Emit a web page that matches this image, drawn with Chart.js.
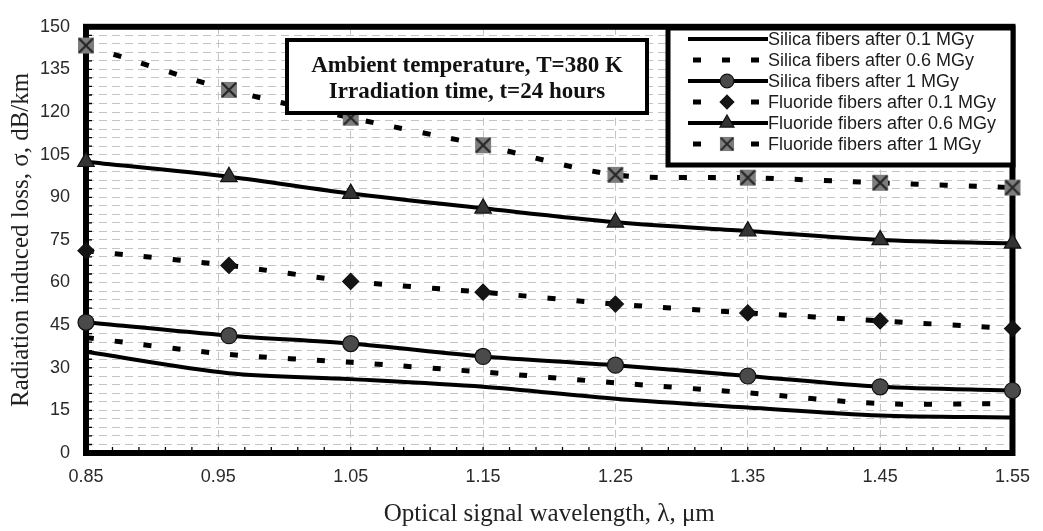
<!DOCTYPE html>
<html>
<head>
<meta charset="utf-8">
<script src="https://cdn.jsdelivr.net/npm/chart.js@4.4.1/dist/chart.umd.min.js"></script>
<style>
  html, body { margin: 0; padding: 0; background: #fff; }
</style>
</head>
<body>
<canvas id="lossChart" width="1043" height="531"></canvas>
<script>
// Data (wavelength in um, loss in dB/km)
const wavelengths = [0.85, 0.958, 1.05, 1.15, 1.25, 1.35, 1.45, 1.55];
const silica01 = [35.6, 28.1, 26.0, 23.3, 19.1, 16.0, 13.2, 12.5];
const silica06 = [40.6, 34.7, 31.9, 28.5, 24.7, 21.2, 17.4, 17.4];
const silica1  = [46.0, 41.3, 38.5, 34.0, 30.9, 27.1, 23.3, 22.0];
const fluor01  = [71.2, 66.0, 60.4, 56.6, 52.4, 49.3, 46.5, 43.8];
const fluor06  = [102.5, 97.2, 91.3, 86.1, 81.2, 78.1, 75.0, 73.8];
const fluor1   = [143.4, 127.8, 118.0, 108.3, 97.9, 96.9, 95.1, 93.4];

const xTickLabels = [0.85, 0.95, 1.05, 1.15, 1.25, 1.35, 1.45, 1.55];
const yTickLabels = [0, 15, 30, 45, 60, 75, 90, 105, 120, 135, 150];

const seriesNames = [
  'Silica fibers after 0.1 MGy',
  'Silica fibers after 0.6 MGy',
  'Silica fibers after 1 MGy',
  'Fluoride fibers after 0.1 MGy',
  'Fluoride fibers after 0.6 MGy',
  'Fluoride fibers after 1 MGy'
];

// grey square with a cross, like the spreadsheet marker
const crossMarker = (() => {
  const c = document.createElement('canvas');
  c.width = 18; c.height = 18;
  const g = c.getContext('2d');
  g.fillStyle = '#7d7d7d';
  g.fillRect(1, 1, 16, 16);
  g.strokeStyle = '#262626';
  g.lineWidth = 2.2;
  g.beginPath();
  g.moveTo(2, 2); g.lineTo(16, 16);
  g.moveTo(16, 2); g.lineTo(2, 16);
  g.stroke();
  return c;
})();

const dash = [8, 21];
const toPoints = arr => arr.map((v, i) => ({ x: wavelengths[i], y: v }));

const styles = [
  { data: silica01, dashed: false, marker: false },
  { data: silica06, dashed: true,  marker: false },
  { data: silica1,  dashed: false, marker: 'circle', radius: 8, fill: '#4a4a4a' },
  { data: fluor01,  dashed: true,  marker: 'rectRot', radius: 8, fill: '#151515' },
  { data: fluor06,  dashed: false, marker: 'triangle', radius: 9.5, fill: '#333333' },
  { data: fluor1,   dashed: true,  marker: crossMarker, radius: 9, fill: '#7d7d7d' }
];

const datasets = styles.map((s, i) => ({
  label: seriesNames[i],
  data: toPoints(s.data),
  borderColor: '#000',
  borderWidth: s.dashed ? 5 : 4,
  borderDash: s.dashed ? dash : [],
  borderCapStyle: 'butt',
  tension: 0.3,
  fill: false,
  clip: false,
  pointStyle: s.marker || 'circle',
  pointRadius: s.marker ? s.radius : 0,
  pointHoverRadius: s.marker ? s.radius : 0,
  pointBackgroundColor: s.fill || '#000',
  pointBorderColor: '#111',
  pointBorderWidth: 1.2
}));

function drawMarker(ctx, s, x, y) {
  if (!s.marker) return;
  ctx.save();
  ctx.fillStyle = s.fill;
  ctx.strokeStyle = '#111';
  ctx.lineWidth = 1.2;
  const r = s.radius * 0.85;
  if (s.marker === 'circle') {
    ctx.beginPath(); ctx.arc(x, y, r, 0, Math.PI * 2); ctx.fill(); ctx.stroke();
  } else if (s.marker === 'rectRot') {
    ctx.beginPath();
    ctx.moveTo(x, y - r); ctx.lineTo(x + r, y); ctx.lineTo(x, y + r); ctx.lineTo(x - r, y);
    ctx.closePath(); ctx.fill(); ctx.stroke();
  } else if (s.marker === 'triangle') {
    ctx.beginPath();
    ctx.moveTo(x, y - r);
    ctx.lineTo(x + r * 0.866, y + r / 2);
    ctx.lineTo(x - r * 0.866, y + r / 2);
    ctx.closePath(); ctx.fill(); ctx.stroke();
  } else {
    ctx.drawImage(s.marker, x - 8, y - 8, 16, 16);
  }
  ctx.restore();
}

// thick frame + small inner ticks
const framePlugin = {
  id: 'frame',
  beforeDatasetsDraw(chart) {
    const { ctx, chartArea: a, scales } = chart;
    ctx.save();
    ctx.strokeStyle = '#000';
    ctx.lineWidth = 1.3;
    ctx.beginPath();
    for (let i = 0; i <= 35; i++) {
      const px = scales.x.getPixelForValue(0.85 + i * 0.02);
      ctx.moveTo(px, a.bottom); ctx.lineTo(px, a.bottom - 6);
    }
    for (let v = 0; v <= 150; v += 3) {
      const py = scales.y.getPixelForValue(v);
      ctx.moveTo(a.left, py); ctx.lineTo(a.left + 6, py);
    }
    ctx.stroke();
    ctx.lineWidth = 6;
    ctx.strokeRect(a.left, a.top, a.right - a.left, a.bottom - a.top);
    ctx.restore();
  }
};

// text box and legend box drawn over the lines
const boxesPlugin = {
  id: 'boxes',
  afterDatasetsDraw(chart) {
    const ctx = chart.ctx;
    ctx.save();
    // conditions box
    ctx.fillStyle = '#fff';
    ctx.fillRect(287, 40, 360, 73);
    ctx.strokeStyle = '#000';
    ctx.lineWidth = 4;
    ctx.strokeRect(287, 40, 360, 73);
    ctx.fillStyle = '#111';
    ctx.font = 'bold 23px "Liberation Serif", "Times New Roman", serif';
    ctx.textAlign = 'center';
    ctx.textBaseline = 'middle';
    ctx.fillText('Ambient temperature, T=380 K', 467, 66);
    ctx.fillText('Irradiation time, t=24 hours', 467, 92);

    // legend
    ctx.fillStyle = '#fff';
    ctx.fillRect(668, 28, 345, 137);
    ctx.lineWidth = 5;
    ctx.strokeRect(668, 28, 345, 137);
    ctx.font = '18px "Liberation Sans", Arial, sans-serif';
    ctx.textAlign = 'left';
    styles.forEach((s, i) => {
      const y = 39 + i * 21;
      ctx.strokeStyle = '#000';
      ctx.lineWidth = s.dashed ? 5 : 4;
      ctx.setLineDash(s.dashed ? dash : []);
      ctx.lineDashOffset = s.dashed ? -5 : 0;
      ctx.beginPath();
      ctx.moveTo(688, y); ctx.lineTo(768, y);
      ctx.stroke();
      ctx.setLineDash([]);
      drawMarker(ctx, s, 727, y);
      ctx.fillStyle = '#1c1c1c';
      ctx.fillText(seriesNames[i], 768, y + 1);
    });
    ctx.restore();
  }
};

const minorY = [];
for (let v = 0; v <= 150; v += 3) minorY.push({ value: v });

new Chart(document.getElementById('lossChart'), {
  type: 'line',
  data: { datasets },
  options: {
    responsive: false,
    animation: false,
    layout: { padding: { top: 21, right: 21, left: 0, bottom: 0 } },
    plugins: { legend: { display: false }, tooltip: { enabled: false } },
    scales: {
      x: {
        type: 'linear',
        min: 0.85,
        max: 1.55,
        afterBuildTicks: scale => { scale.ticks = xTickLabels.map(v => ({ value: v })); },
        afterFit: scale => { scale.height = 78; },
        ticks: {
          callback: v => v.toFixed(2),
          color: '#2a2a2a',
          font: { family: '"Liberation Sans", Arial, sans-serif', size: 18 },
          padding: 13,
          maxRotation: 0,
          autoSkip: false
        },
        grid: { color: '#c4c4c4', lineWidth: 1, drawTicks: false },
        border: { display: false, dash: [8, 5] },
        title: {
          display: true,
          text: 'Optical signal wavelength, λ, μm',
          color: '#222',
          font: { family: '"Liberation Serif", "Times New Roman", serif', size: 25 },
          padding: { top: 0, bottom: 2 }
        }
      },
      y: {
        min: 0,
        max: 150,
        afterBuildTicks: scale => { scale.ticks = minorY.map(t => ({ value: t.value })); },
        afterFit: scale => { scale.width = 86; },
        ticks: {
          callback: v => (yTickLabels.includes(v) ? String(v) : ''),
          color: '#2a2a2a',
          font: { family: '"Liberation Sans", Arial, sans-serif', size: 18 },
          padding: 16,
          autoSkip: false
        },
        grid: { color: '#c4c4c4', lineWidth: 1, drawTicks: false },
        border: { display: false, dash: [8, 5] },
        title: {
          display: true,
          text: 'Radiation induced loss, σ, dB/km',
          color: '#222',
          font: { family: '"Liberation Serif", "Times New Roman", serif', size: 25 },
          padding: { top: 6, bottom: 0 }
        }
      }
    }
  },
  plugins: [framePlugin, boxesPlugin]
});
</script>
</body>
</html>
